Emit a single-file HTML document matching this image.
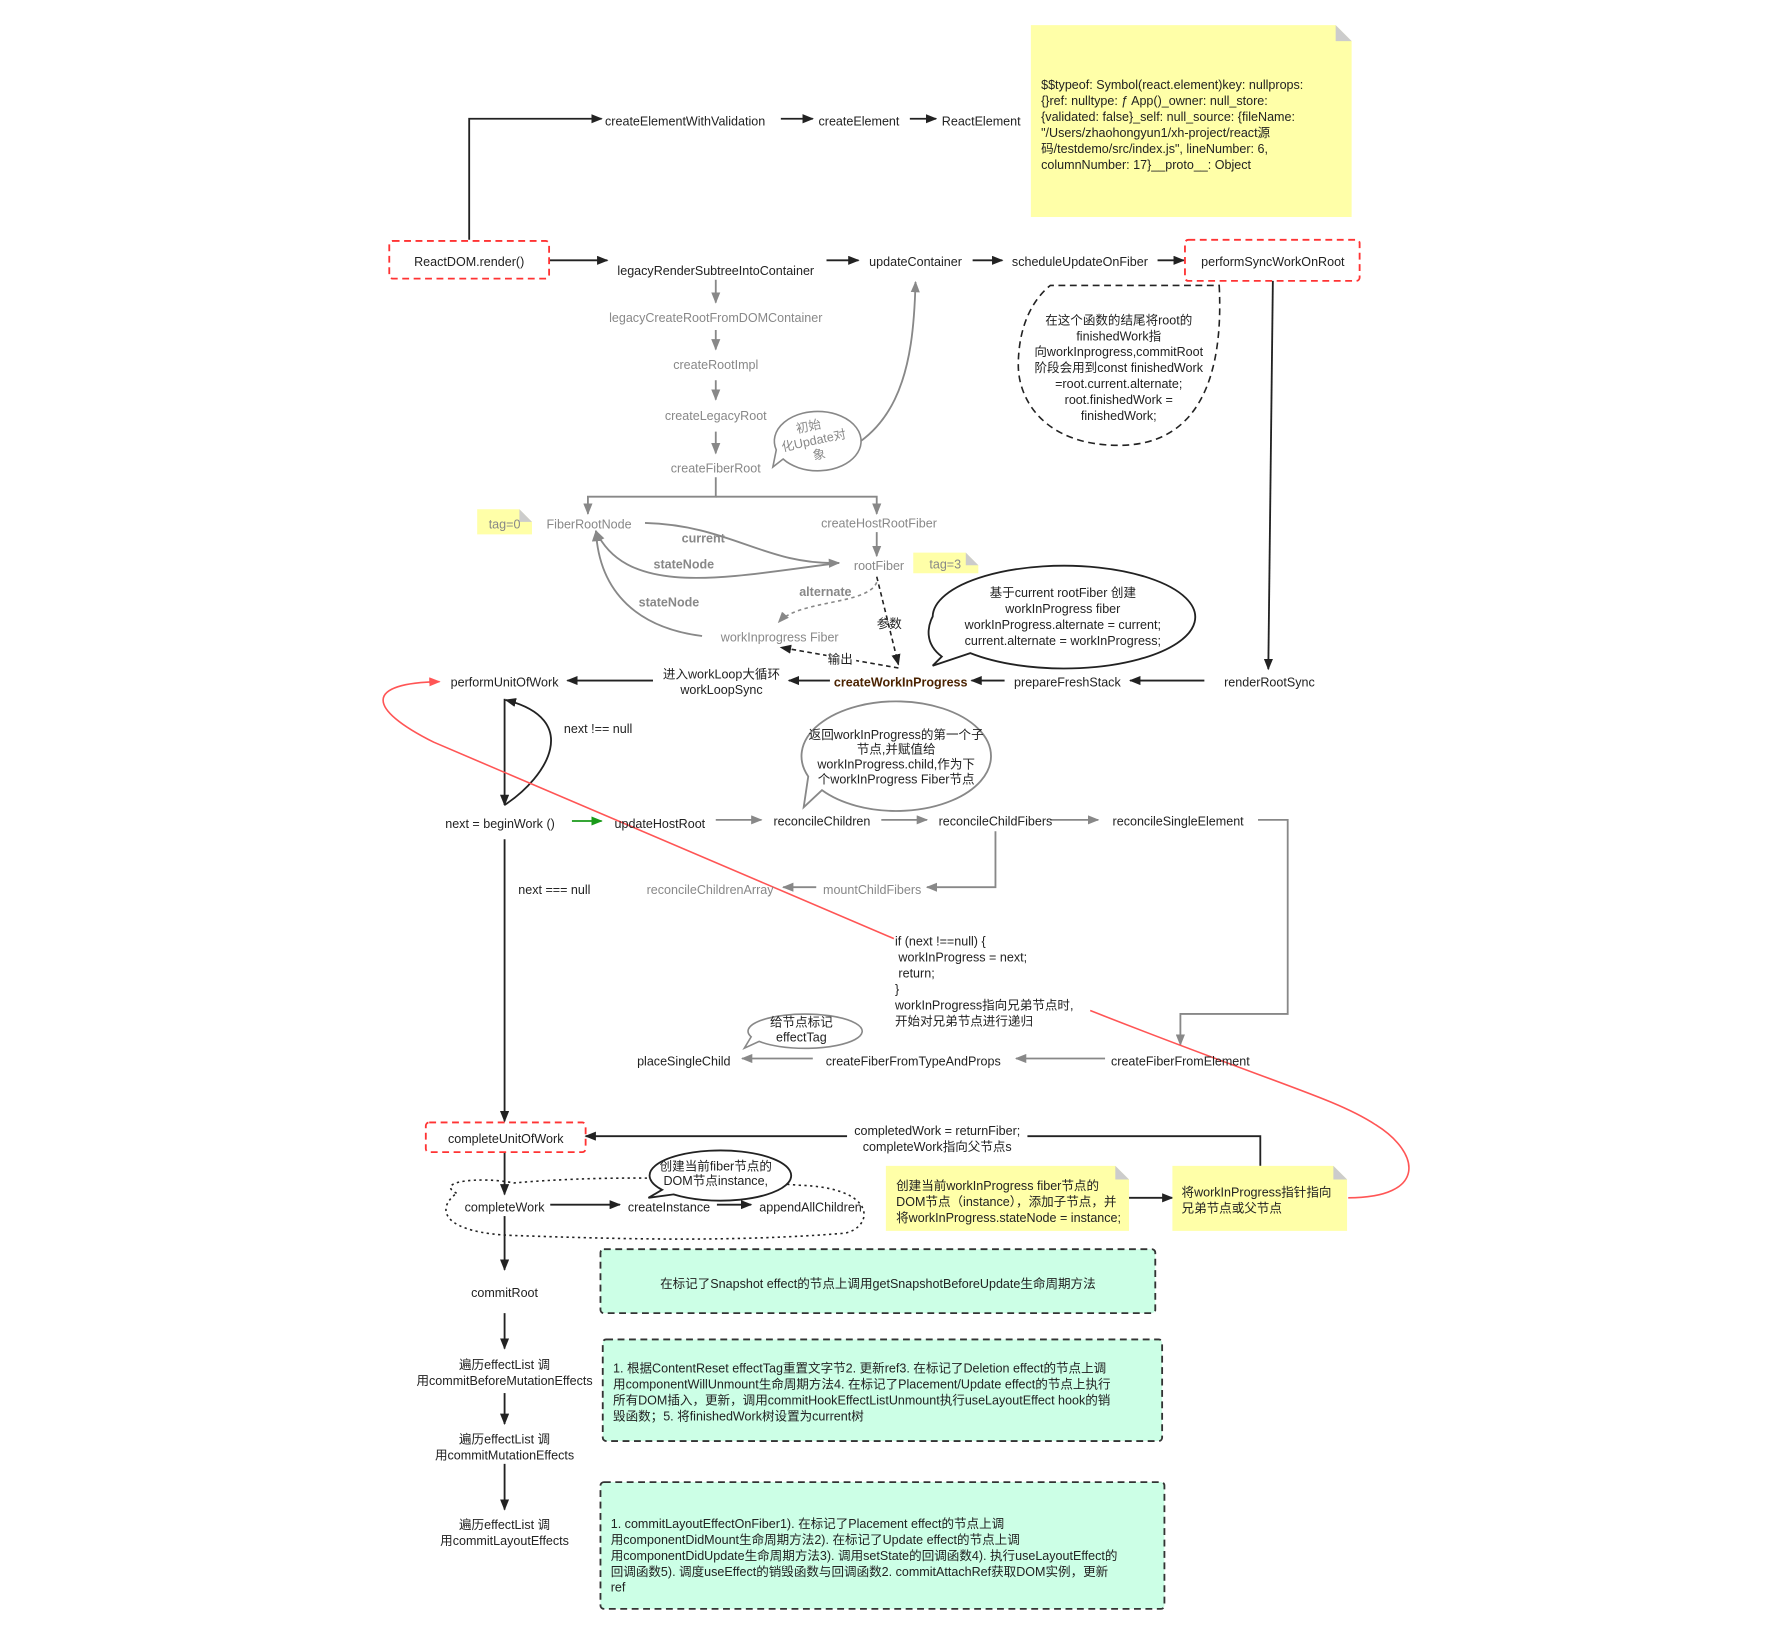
<!DOCTYPE html>
<html><head><meta charset="utf-8"><style>
html,body{margin:0;padding:0;background:#fff}
svg{display:block}
text{font-family:"Liberation Sans","Noto Sans CJK SC",sans-serif;font-size:11px;fill:#222}
.g{fill:#888}
.c{text-anchor:middle}
</style></head><body>
<svg width="1790" height="1634" viewBox="0 0 1568 1431" preserveAspectRatio="none" xmlns="http://www.w3.org/2000/svg">
<defs>
<marker id="a" markerWidth="10" markerHeight="8" refX="9" refY="4" orient="auto" markerUnits="userSpaceOnUse"><path d="M0,0 L10,4 L0,8 Z" fill="#222"/></marker>
<marker id="ag" markerWidth="10" markerHeight="8" refX="9" refY="4" orient="auto" markerUnits="userSpaceOnUse"><path d="M0,0 L10,4 L0,8 Z" fill="#888"/></marker>
<marker id="agr" markerWidth="10" markerHeight="8" refX="9" refY="4" orient="auto" markerUnits="userSpaceOnUse"><path d="M0,0 L10,4 L0,8 Z" fill="#1a9a1a"/></marker>
<marker id="ar" markerWidth="10" markerHeight="8" refX="9" refY="4" orient="auto" markerUnits="userSpaceOnUse"><path d="M0,0 L10,4 L0,8 Z" fill="#f55"/></marker>
</defs>
<g stroke="#222" stroke-width="1.6" fill="none" marker-end="url(#a)">
<path d="M411,210 V104 H527"/>
<path d="M684,104 H712"/><path d="M797,104 H820"/>
<path d="M481,228 H532"/><path d="M724,228 H752"/><path d="M852,228 H878"/><path d="M1014,228 H1037"/>
<path d="M1115,246 L1111,586"/>
<path d="M1055,596 H990"/><path d="M880,596 H851"/><path d="M727,596 H691"/><path d="M572,596 H497"/>
<path d="M442,612 V705"/>
<path d="M442,705 C480,680 510,630 443,613"/>
<path d="M442,735 V982"/>
<path d="M1104,1021 V995 H513"/>
<path d="M442,1009 V1046"/><path d="M482,1055 H543"/><path d="M628,1055 H658"/>
<path d="M442,1065 V1112"/><path d="M442,1150 V1181"/><path d="M442,1220 V1247"/><path d="M442,1282 V1322"/>
<path d="M989,1049 H1027"/>
</g>
<path d="M501,719 H527" stroke="#1a9a1a" stroke-width="1.6" marker-end="url(#agr)"/>
<g stroke="#888" stroke-width="1.6" fill="none" marker-end="url(#ag)">
<path d="M627,245 V265"/><path d="M627,289 V306"/><path d="M627,333 V350"/><path d="M627,378 V397"/>
<path d="M698,407 C790,395 800,320 802,247"/>
<path d="M627,418 V435 H515 V450"/>
<path d="M627,435 H768 V450"/>
<path d="M768,466 V487"/>
<path d="M565,458 C640,460 670,495 735,493"/>
<path d="M735,493 C640,505 550,525 522,465"/>
<path d="M615,557 C560,550 525,520 522,465"/>
<path d="M627,718 H667"/><path d="M772,718 H812"/><path d="M920,718 H962"/>
<path d="M1102,718 H1128 V888 H1034 V915"/>
<path d="M872,728 V777 H812"/>
<path d="M715,777 H686"/>
<path d="M968,927 H890"/><path d="M712,927 H650"/>
</g>
<g stroke="#222" stroke-width="1.4" stroke-dasharray="4,3" fill="none" marker-end="url(#a)">
<path d="M768,505 L787,582"/><path d="M787,585 L684,567"/>
</g>
<path d="M768,510 C760,530 700,525 682,545" stroke="#888" stroke-width="1.4" stroke-dasharray="3,3" fill="none" marker-end="url(#ag)"/>
<g stroke="#f55" stroke-width="1.4" fill="none">
<path d="M783,822 L380,650 C320,620 320,598 385,597" marker-end="url(#ar)"/>
<path d="M1181,1049 C1250,1049 1245,1010 1205,985 C1170,962 1120,950 955,885"/>
</g>
<g fill="none" stroke="#f33" stroke-width="1.6" stroke-dasharray="6,4">
<rect x="341" y="211" width="140" height="33" rx="3"/>
<rect x="1038" y="210" width="153" height="36" rx="3"/>
<rect x="373" y="983" width="140" height="26" rx="3"/>
</g>
<g fill="#ffffa8">
<path d="M903,22 H1170 L1184,36 V190 H903 Z"/>
<path d="M418,446 H455 L466,457 V468 H418 Z"/>
<path d="M800,484 H846 L857,495 V502 H800 Z"/>
<path d="M776,1021 H977 L989,1033 V1078 H776 Z"/>
<path d="M1027,1021 H1168 L1180,1033 V1078 H1027 Z"/>
</g>
<g fill="#ccc"><path d="M1170,22 L1184,36 H1170 Z"/><path d="M455,446 L466,457 H455 Z"/><path d="M846,484 L857,495 H846Z"/><path d="M977,1021 L989,1033 H977Z"/><path d="M1168,1021 L1180,1033 H1168Z"/></g>
<g fill="#ccffe6" stroke="#333" stroke-width="1.6" stroke-dasharray="6,4">
<rect x="526" y="1094" width="486" height="56" rx="3"/>
<rect x="528" y="1173" width="490" height="89" rx="3"/>
<rect x="526" y="1298" width="494" height="111" rx="3"/>
</g>
<path d="M1068,250 C1072,330 1050,390 980,390 C915,390 892,350 892,320 C892,285 905,262 920,250 Z" fill="none" stroke="#222" stroke-width="1.4" stroke-dasharray="6,4"/>
<path d="M825,575 C805,560 817,540 817,540 A115,45 0 1 1 850,572 L817,583 Z" fill="#fff" stroke="#222" stroke-width="1.6"/>
<path d="M720,692 A83,48 0 1 0 708,680 L704,707 Z" fill="#fff" stroke="#888" stroke-width="1.6"/>
<path d="M686,402 A38,26 0 1 0 680,394 L677,409 Z" fill="#fff" stroke="#888" stroke-width="1.4"/>
<path d="M665,912 A50,15 0 1 0 658,908 L652,918 Z" fill="#fff" stroke="#888" stroke-width="1.4"/>
<path d="M400,1045 C380,1035 420,1030 450,1036 C520,1030 600,1030 700,1038 C770,1040 765,1075 740,1080 C640,1088 540,1085 450,1082 C390,1080 380,1060 400,1045 Z" fill="none" stroke="#222" stroke-width="1.4" stroke-dasharray="2,3"/>
<path d="M580,1042 A62,22 0 1 1 590,1046 L568,1049 Z" fill="#fff" stroke="#222" stroke-width="1.6"/>
<rect x="742" y="981" width="158" height="29" fill="#fff"/>
<rect x="724" y="570" width="26" height="13" fill="#fff"/>
<text x="530" y="110">createElementWithValidation</text>
<text x="717" y="110">createElement</text>
<text x="825" y="110">ReactElement</text>
<g font-size="11"><text x="912" y="78">$$typeof: Symbol(react.element)key: nullprops:</text>
<text x="912" y="92">{}ref: nulltype: ƒ App()_owner: null_store:</text>
<text x="912" y="106">{validated: false}_self: null_source: {fileName:</text>
<text x="912" y="120">"/Users/zhaohongyun1/xh-project/react源</text>
<text x="912" y="134">码/testdemo/src/index.js", lineNumber: 6,</text>
<text x="912" y="148">columnNumber: 17}__proto__: Object</text></g>
<text class="c" x="411" y="233">ReactDOM.render()</text>
<text class="c" x="627" y="241">legacyRenderSubtreeIntoContainer</text>
<text class="c" x="802" y="233">updateContainer</text>
<text class="c" x="946" y="233">scheduleUpdateOnFiber</text>
<text class="c" x="1115" y="233">performSyncWorkOnRoot</text>
<g font-size="10">
<text class="c g" x="627" y="282">legacyCreateRootFromDOMContainer</text>
<text class="c g" x="627" y="323">createRootImpl</text>
<text class="c g" x="627" y="368">createLegacyRoot</text>
<text class="c g" x="627" y="414">createFiberRoot</text>
<text class="c g" x="442" y="463">tag=0</text>
<text class="c g" x="516" y="463">FiberRootNode</text>
<text class="c g" x="770" y="462">createHostRootFiber</text>
<text class="c g" x="770" y="499">rootFiber</text>
<text class="c g" x="828" y="498">tag=3</text>
<text class="c g" x="683" y="562">workInprogress Fiber</text>
<text class="c g" x="622" y="783">reconcileChildrenArray</text>
<text class="c g" x="764" y="783">mountChildFibers</text>
</g>
<g font-size="10" font-weight="bold"><text class="c g" x="616" y="475">current</text><text class="c g" x="599" y="498">stateNode</text><text class="c g" x="586" y="531">stateNode</text><text class="c g" x="723" y="522">alternate</text></g>
<g font-size="10"><text class="c g" x="710" y="377" transform="rotate(-12 710 382)">初始</text><text class="c g" x="712" y="390" transform="rotate(-12 710 382)">化Update对</text><text class="c g" x="714" y="403" transform="rotate(-12 710 382)">象</text></g>
<text class="c" x="779" y="550">参数</text><text class="c" x="736" y="581">输出</text>
<g font-size="11"><text class="c" x="980" y="284">在这个函数的结尾将root的</text><text class="c" x="980" y="298">finishedWork指</text><text class="c" x="980" y="312">向workInprogress,commitRoot</text><text class="c" x="980" y="326">阶段会用到const finishedWork</text><text class="c" x="980" y="340">=root.current.alternate;</text><text class="c" x="980" y="354">root.finishedWork =</text><text class="c" x="980" y="368">finishedWork;</text></g>
<g font-size="11"><text class="c" x="931" y="523">基于current rootFiber 创建</text><text class="c" x="931" y="537">workInProgress fiber</text><text class="c" x="931" y="551">workInProgress.alternate = current;</text><text class="c" x="931" y="565">current.alternate = workInProgress;</text></g>
<text class="c" x="789" y="601" font-weight="bold" style="fill:#4a2200">createWorkInProgress</text>
<text class="c" x="935" y="601">prepareFreshStack</text>
<text class="c" x="1112" y="601">renderRootSync</text>
<text class="c" x="632" y="594">进入workLoop大循环</text><text class="c" x="632" y="608">workLoopSync</text>
<text class="c" x="442" y="601">performUnitOfWork</text>
<text x="494" y="642">next !== null</text>
<text class="c" x="438" y="725">next = beginWork  ()</text>
<text class="c" x="578" y="725">updateHostRoot</text>
<g font-size="10"><text class="c" x="720" y="723">reconcileChildren</text><text class="c" x="872" y="723">reconcileChildFibers</text><text class="c" x="1032" y="723">reconcileSingleElement</text>
<text class="c" x="785" y="647">返回workInProgress的第一个子</text><text class="c" x="785" y="660">节点,并赋值给</text><text class="c" x="785" y="673">workInProgress.child,作为下</text><text class="c" x="785" y="686">个workInProgress Fiber节点</text>
<text class="c" x="1034" y="933">createFiberFromElement</text><text class="c" x="800" y="933">createFiberFromTypeAndProps</text><text class="c" x="599" y="933">placeSingleChild</text>
<text class="c" x="702" y="899">给节点标记</text><text class="c" x="702" y="912">effectTag</text></g>
<text x="454" y="783">next === null</text>
<g font-size="11"><text x="784" y="828">if (next !==null) {</text><text x="787" y="842">workInProgress = next;</text><text x="787" y="856">return;</text><text x="784" y="870">}</text><text x="784" y="884">workInProgress指向兄弟节点时,</text><text x="784" y="898">开始对兄弟节点进行递归</text></g>
<text class="c" x="443" y="1001">completeUnitOfWork</text>
<text class="c" x="821" y="994">completedWork = returnFiber;</text><text class="c" x="821" y="1008">completeWork指向父节点s</text>
<text class="c" x="442" y="1061">completeWork</text><text class="c" x="586" y="1061">createInstance</text><text class="c" x="710" y="1061">appendAllChildren</text>
<g font-size="10"><text class="c" x="627" y="1025">创建当前fiber节点的</text><text class="c" x="627" y="1038">DOM节点instance,</text>
<text x="785" y="1042">创建当前workInProgress fiber节点的</text><text x="785" y="1056">DOM节点（instance），添加子节点，并</text><text x="785" y="1070">将workInProgress.stateNode = instance;</text>
<text x="1035" y="1048">将workInProgress指针指向</text><text x="1035" y="1062">兄弟节点或父节点</text></g>
<text class="c" x="442" y="1136">commitRoot</text>
<text class="c" x="442" y="1199">遍历effectList 调</text><text class="c" x="442" y="1213">用commitBeforeMutationEffects</text>
<text class="c" x="442" y="1264">遍历effectList 调</text><text class="c" x="442" y="1278">用commitMutationEffects</text>
<text class="c" x="442" y="1339">遍历effectList 调</text><text class="c" x="442" y="1353">用commitLayoutEffects</text>
<text class="c" x="769" y="1128">在标记了Snapshot effect的节点上调用getSnapshotBeforeUpdate生命周期方法</text>
<g font-size="11"><text x="537" y="1202">1. 根据ContentReset effectTag重置文字节2. 更新ref3. 在标记了Deletion effect的节点上调</text><text x="537" y="1216">用componentWillUnmount生命周期方法4. 在标记了Placement/Update effect的节点上执行</text><text x="537" y="1230">所有DOM插入，更新，调用commitHookEffectListUnmount执行useLayoutEffect hook的销</text><text x="537" y="1244">毁函数；5. 将finishedWork树设置为current树</text>
<text x="535" y="1338">1. commitLayoutEffectOnFiber1). 在标记了Placement effect的节点上调</text><text x="535" y="1352">用componentDidMount生命周期方法2). 在标记了Update effect的节点上调</text><text x="535" y="1366">用componentDidUpdate生命周期方法3). 调用setState的回调函数4). 执行useLayoutEffect的</text><text x="535" y="1380">回调函数5). 调度useEffect的销毁函数与回调函数2. commitAttachRef获取DOM实例，更新</text><text x="535" y="1394">ref</text></g>
</svg>
</body></html>
